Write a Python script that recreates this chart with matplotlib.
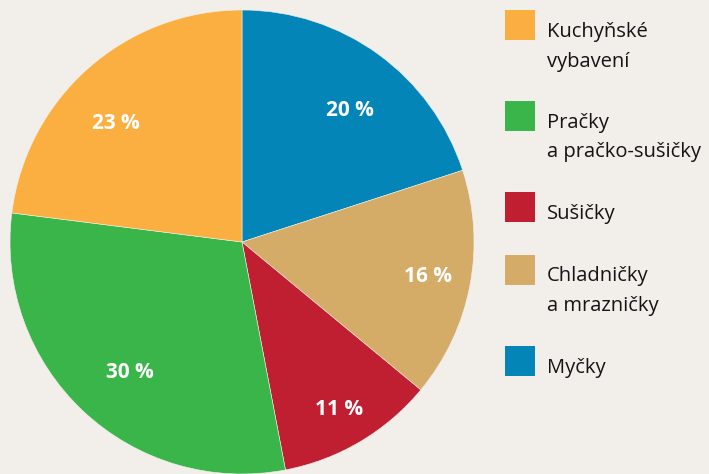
import numpy as np
import matplotlib.pyplot as plt
from matplotlib.patches import Rectangle

# data, clockwise from 12 o'clock
labels = ["Myčky", "Chladničky\na mrazničky", "Sušičky",
          "Pračky\na pračko-sušičky", "Kuchyňské\nvybavení"]
shares = [20, 16, 11, 30, 23]
colors = ["#0485B8", "#D4AB67", "#C01F32", "#3AB54A", "#FBAF41"]

# legend order as in the reference (top to bottom)
legend_order = [4, 3, 2, 1, 0]

bg = "#F2EFEB"
plt.rcParams['font.family'] = ['Open Sans', 'DejaVu Sans']

W, H = 709, 474
fig = plt.figure(figsize=(W / 100, H / 100), dpi=100, facecolor=bg)

# pie geometry in pixels
cx, cy, r = 242, 242, 232
ax = fig.add_axes([(cx - r) / W, (H - cy - r) / H, 2 * r / W, 2 * r / H])
ax.set_facecolor(bg)
wedges, texts, autotexts = ax.pie(
    shares, colors=colors, startangle=90, counterclock=False,
    autopct=lambda p: f"{p:.0f} %", pctdistance=0.78, radius=1,
    wedgeprops=dict(edgecolor=bg, linewidth=0.4),
    textprops=dict(color="white", fontsize=15, fontweight="bold"))
ax.set_xlim(-1, 1)
ax.set_ylim(-1, 1)
ax.set_aspect("equal")
ax.axis("off")

# small manual nudges of the % labels (pixels: right, down)
nudge = [(2, 15), (8, 1), (5, 12), (12, -1), (-6, 17)]
for t, (dx, dy) in zip(autotexts, nudge):
    x, y = t.get_position()
    t.set_position((x + dx / r, y - dy / r))

# legend drawn by hand: squares + labels
leg = fig.add_axes([0, 0, 1, 1], facecolor="none")
leg.set_xlim(0, W)
leg.set_ylim(H, 0)
leg.axis("off")
y = 10
for i in legend_order:
    leg.add_patch(Rectangle((505, y), 30, 30, facecolor=colors[i], edgecolor="none"))
    lines = labels[i].split("\n")
    for j, line in enumerate(lines):
        leg.text(547, y + 27 + j * 29.5, line, fontsize=14.5, color="#141414",
                 va="baseline", ha="left")
    y += 34 + 28.5 * len(lines)

fig.savefig("out.png", dpi=100, facecolor=bg)
